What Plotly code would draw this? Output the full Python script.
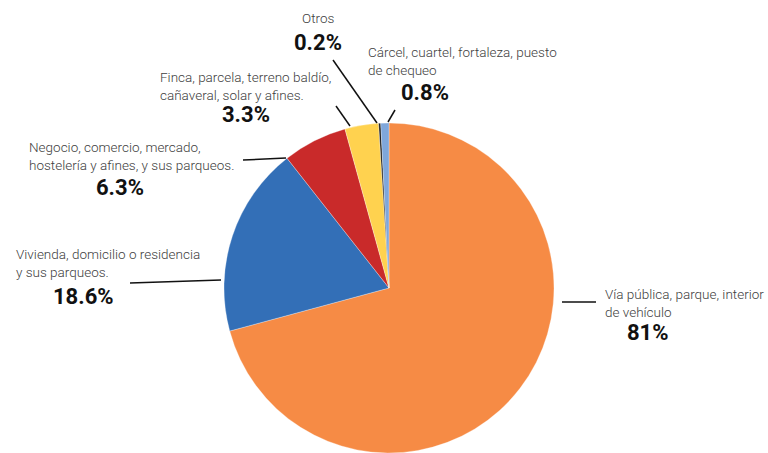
import plotly.graph_objects as go

# Data (clockwise from 12 o'clock)
categories = [
    "Vía pública, parque, interior de vehículo",
    "Vivienda, domicilio o residencia y sus parqueos.",
    "Negocio, comercio, mercado, hostelería y afines, y sus parqueos.",
    "Finca, parcela, terreno baldío, cañaveral, solar y afines.",
    "Otros",
    "Cárcel, cuartel, fortaleza, puesto de chequeo",
]
slice_values = [70.8, 18.6, 6.3, 3.3, 0.2, 0.8]
percent_labels = ["81%", "18.6%", "6.3%", "3.3%", "0.2%", "0.8%"]
label_texts = [
    "Vía pública, parque, interior<br>de vehículo",
    "Vivienda, domicilio o residencia<br>y sus parqueos.",
    "Negocio, comercio, mercado,<br>hostelería y afines, y sus parqueos.",
    "Finca, parcela, terreno baldío,<br>cañaveral, solar y afines.",
    "Otros",
    "Cárcel, cuartel, fortaleza, puesto<br>de chequeo",
]
colors = ["#F68B45", "#336FB7", "#C92A2A", "#FFD24F", "#1A1A1A", "#7FA7DB"]

W, H = 768, 453

# layout positions in pixels (label block: x, y, xanchor; percent: x, y)
label_pos = [
    (603, 303, "left"),
    (14, 263, "left"),
    (27, 156, "left"),
    (158, 86, "left"),
    (318, 18, "center"),
    (366, 61, "left"),
]
pct_pos = [(648, 332), (83, 296), (120, 187), (246, 115), (318, 42), (425, 93)]
leader_lines = [
    ((562, 302), (596, 302)),
    ((130, 283), (221, 280)),
    ((243, 160), (286, 158)),
    ((336, 106), (350, 126)),
    ((333, 60), (377, 123)),
    ((395, 110), (388, 122)),
]

def px(x):
    return x / W

def py(y):
    return 1 - y / H

cx, cy, r = 389, 288, 165

fig = go.Figure(
    go.Pie(
        labels=categories,
        values=slice_values,
        sort=False,
        direction="clockwise",
        rotation=0,
        textinfo="none",
        hoverinfo="label+percent",
        marker=dict(colors=colors, line=dict(color="white", width=0.3)),
        domain=dict(x=[px(cx - r), px(cx + r)], y=[py(cy + r), py(cy - r)]),
        showlegend=False,
    )
)

annotations = []
for txt, (x, y, anc) in zip(label_texts, label_pos):
    annotations.append(dict(
        x=px(x), y=py(y), xref="paper", yref="paper", text=txt,
        showarrow=False, xanchor=anc, yanchor="middle", align=anc,
        font=dict(family="Roboto", size=13.5, color="#404040", weight=300),
    ))
for txt, (x, y) in zip(percent_labels, pct_pos):
    annotations.append(dict(
        x=px(x), y=py(y), xref="paper", yref="paper", text="<b>" + txt + "</b>",
        showarrow=False, xanchor="center", yanchor="middle",
        font=dict(family="Roboto", size=22, color="#111111"),
    ))

shapes = []
for (x0, y0), (x1, y1) in leader_lines:
    shapes.append(dict(
        type="line", xref="paper", yref="paper",
        x0=px(x0), y0=py(y0), x1=px(x1), y1=py(y1),
        line=dict(color="#111111", width=1.5),
    ))

fig.update_layout(
    width=W, height=H,
    margin=dict(l=0, r=0, t=0, b=0),
    paper_bgcolor="white",
    plot_bgcolor="white",
    annotations=annotations,
    shapes=shapes,
)

fig.write_html(
    "out.html",
    config={"displayModeBar": False},
    post_script="document.body.style.margin='0';document.body.style.overflow='hidden';",
)
